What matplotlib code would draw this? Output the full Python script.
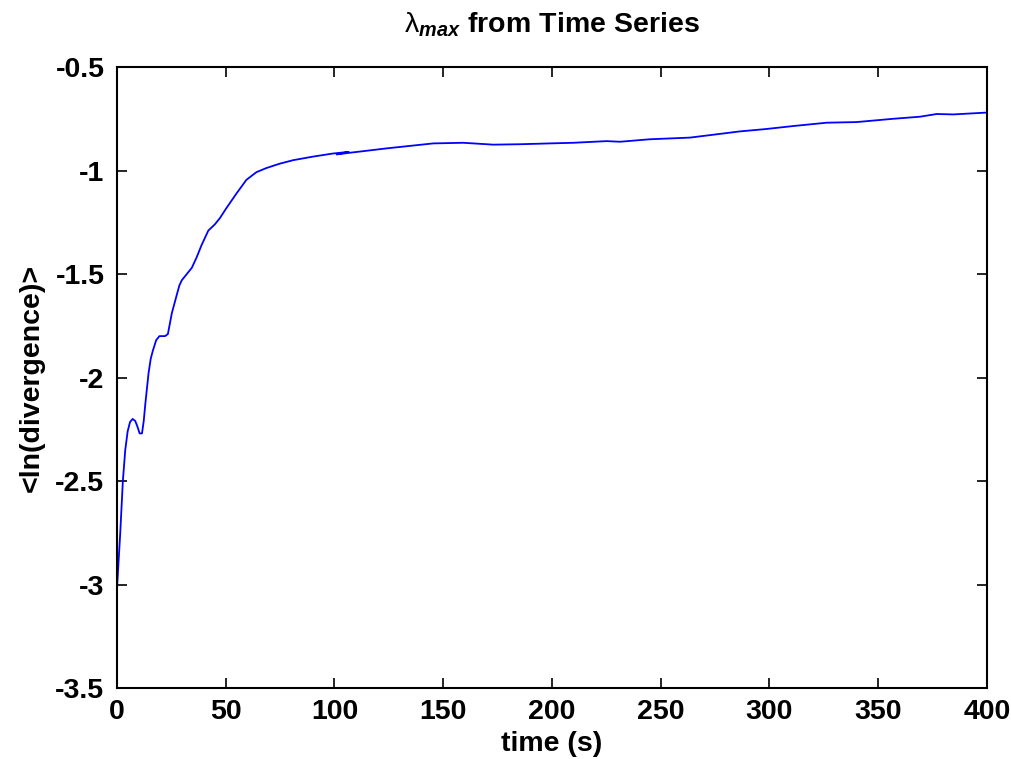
import matplotlib
matplotlib.use("Agg")
import matplotlib.pyplot as plt

time_s = [0, 1.5, 2.7, 3.8, 4.9, 6.0, 7.2, 8.4, 9.5, 10.4, 11.5, 12.3, 13, 14.5, 15.5, 16.5,
          18, 19.5, 22.1, 23.4, 25.2, 27.5, 28.7, 29.8, 32.1, 34.4, 36.6, 38.9, 42, 45,
          47.3, 50.4, 55, 59.5, 64.1, 68.7, 74.8, 81, 90, 99.2, 106.5, 101, 105.6, 124,
          145.4, 159.2, 173, 185.3, 199, 209.8, 225.1, 231.3, 245, 263.4, 274.2, 286.4,
          298, 311, 326.3, 340, 357, 369.2, 376.9, 384.5, 400]
ln_div = [-3.02, -2.75, -2.50, -2.35, -2.26, -2.215, -2.20, -2.21, -2.24, -2.27, -2.27,
          -2.21, -2.13, -1.98, -1.91, -1.87, -1.82, -1.80, -1.80, -1.79, -1.69, -1.60,
          -1.555, -1.53, -1.50, -1.47, -1.42, -1.36, -1.29, -1.26, -1.23, -1.18, -1.11,
          -1.045, -1.008, -0.988, -0.967, -0.95, -0.933, -0.918, -0.910, -0.922, -0.916,
          -0.893, -0.869, -0.866, -0.875, -0.873, -0.869, -0.866, -0.858, -0.861, -0.849,
          -0.841, -0.827, -0.811, -0.800, -0.785, -0.769, -0.766, -0.750, -0.740, -0.727,
          -0.729, -0.720]
x_ticks = [0, 50, 100, 150, 200, 250, 300, 350, 400]
y_ticks = [-3.5, -3, -2.5, -2, -1.5, -1, -0.5]
y_tick_labels = ["-3.5", "-3", "-2.5", "-2", "-1.5", "-1", "-0.5"]

plt.rcParams['font.family'] = ['Liberation Sans', 'DejaVu Sans']
plt.rcParams['font.weight'] = 'bold'
plt.rcParams['mathtext.fontset'] = 'custom'
plt.rcParams['mathtext.rm'] = 'Liberation Sans:weight=normal'
plt.rcParams['mathtext.it'] = 'Liberation Sans:italic:bold'
plt.rcParams['mathtext.bf'] = 'Liberation Sans:bold'

FS = 20.5
fig = plt.figure(figsize=(10.12, 7.59), dpi=100)
ax = fig.add_axes([0.1156, 0.0935, 0.8597, 0.8182])
ax.plot(time_s, ln_div, color='#0000ff', linewidth=1.3)
ax.set_xlim(0, 400)
ax.set_ylim(-3.5, -0.5)
ax.set_xticks(x_ticks)
ax.set_xticklabels([str(t) for t in x_ticks])
ax.set_yticks(y_ticks)
ax.set_yticklabels(y_tick_labels)
ax.tick_params(direction='in', length=7.5, width=1.2, top=True, right=True,
               labelsize=FS)
ax.tick_params(axis='x', pad=8)
ax.tick_params(axis='y', pad=9)
for s in ax.spines.values():
    s.set_linewidth(1.5)
ax.set_xlabel('time (s)', fontsize=FS, fontweight='bold', labelpad=4)
ax.set_ylabel('<ln(divergence)>', fontsize=FS, fontweight='bold', labelpad=8)
ax.set_title(r'$\mathrm{\lambda}_{max}$ $\mathbf{from\ Time\ Series}$', fontsize=FS, pad=25)
fig.savefig('out.png', dpi=100)
